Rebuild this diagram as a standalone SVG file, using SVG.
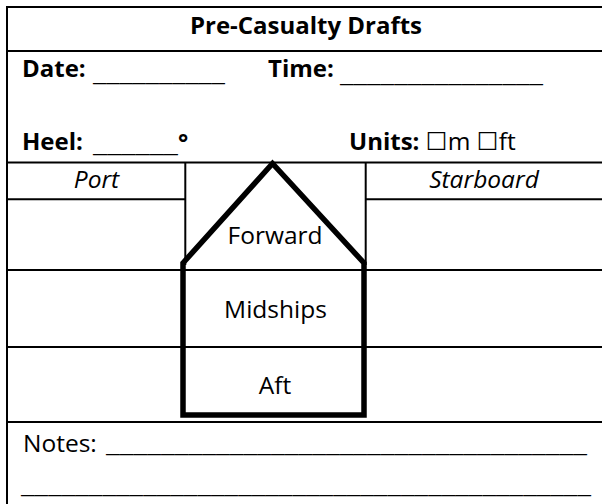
<svg xmlns="http://www.w3.org/2000/svg" width="602" height="504" viewBox="0 0 602 504">
<style>
.t{font-family:"Open Sans","DejaVu Sans",sans-serif;fill:#000;font-size:24.5px}
.b{font-weight:bold;font-size:24px}
.i{font-style:italic}
.m{text-anchor:middle}
.ln{stroke:#000;stroke-width:2;fill:none}
.ship{stroke:#000;stroke-width:5.5;fill:none;stroke-linejoin:miter}
</style>
<rect width="602" height="504" fill="#fff"/>
<g id="grid">
<line class="ln" x1="6" y1="7" x2="602" y2="7"/>
<line class="ln" x1="7" y1="6" x2="7" y2="504"/>
<line class="ln" x1="7" y1="51" x2="602" y2="51"/>
<line class="ln" x1="7" y1="162.5" x2="602" y2="162.5"/>
<line class="ln" x1="7" y1="199.3" x2="185.3" y2="199.3"/>
<line class="ln" x1="365.7" y1="199.3" x2="602" y2="199.3"/>
<line class="ln" x1="7" y1="270" x2="602" y2="270"/>
<line class="ln" x1="7" y1="347" x2="602" y2="347"/>
<line class="ln" x1="7" y1="422" x2="602" y2="422"/>
<line class="ln" x1="185.3" y1="162.5" x2="185.3" y2="265"/>
<line class="ln" x1="365.7" y1="162.5" x2="365.7" y2="265"/>
</g>
<g id="header">
<text class="t b m" x="306" y="34" textLength="232" lengthAdjust="spacingAndGlyphs">Pre-Casualty Drafts</text>
<text class="t b" x="22" y="77">Date:</text>
<text class="t" x="93" y="81" textLength="132" lengthAdjust="spacingAndGlyphs">__________</text>
<text class="t b" x="268" y="77">Time:</text>
<text class="t" x="340" y="82" textLength="203" lengthAdjust="spacingAndGlyphs">_______________</text>
<text class="t b" x="22" y="150">Heel:</text>
<text class="t" x="93" y="152" textLength="85" lengthAdjust="spacingAndGlyphs">______</text>
<text class="t b" x="178" y="151">°</text>
<text class="t" x="349" y="150"><tspan class="b">Units:</tspan> ☐m ☐ft</text>
</g>
<g id="port-label"><text class="t i m" x="96.5" y="188">Port</text></g>
<g id="starboard-label"><text class="t i m" x="484" y="188">Starboard</text></g>
<g id="ship">
<polygon class="ship" points="183,263 272.5,163.5 364,263 364,415 183,415"/>
</g>
<g id="forward"><text class="t m" x="275" y="244">Forward</text></g>
<g id="midships"><text class="t m" x="275.5" y="318">Midships</text></g>
<g id="aft"><text class="t m" x="275" y="394">Aft</text></g>
<g id="notes">
<text class="t" x="23" y="452">Notes:</text>
<text class="t" x="106" y="452" textLength="481" lengthAdjust="spacingAndGlyphs">___________________________________</text>
<text class="t" x="21" y="493" textLength="570" lengthAdjust="spacingAndGlyphs">__________________________________________</text>
</g>
</svg>
